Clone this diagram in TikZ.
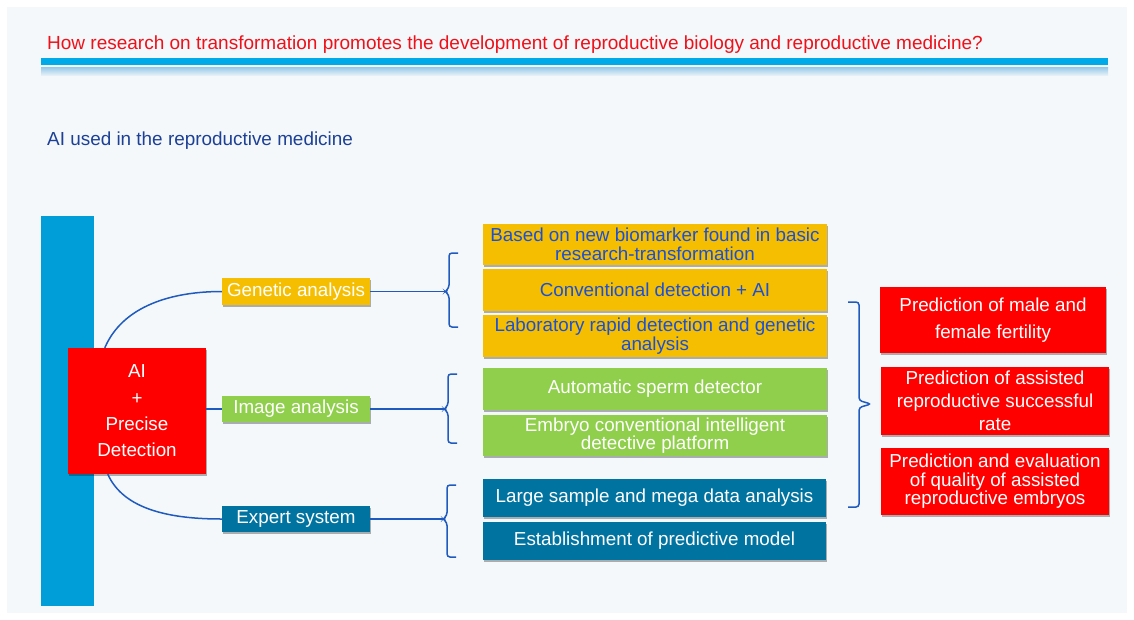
\documentclass[tikz,border=0pt]{standalone}
\usepackage{fontspec}
\setmainfont{Liberation Sans}
\usetikzlibrary{shadows}
\definecolor{panel}{RGB}{244,248,251}
\definecolor{titlered}{RGB}{240,16,24}
\definecolor{barblue}{RGB}{0,170,232}
\definecolor{navy}{RGB}{28,64,150}
\definecolor{vbar}{RGB}{0,158,216}
\definecolor{boxred}{RGB}{255,0,0}
\definecolor{gold}{RGB}{245,190,0}
\definecolor{leaf}{RGB}{143,207,76}
\definecolor{teal}{RGB}{0,115,160}
\definecolor{goldtext}{RGB}{26,80,215}
\definecolor{conn}{RGB}{31,90,190}
\tikzset{
  box/.style={rectangle, inner sep=0pt, align=center, text=white,
    font=\fontsize{18.8}{18.5}\selectfont,
    drop shadow={shadow xshift=1.2pt, shadow yshift=-2.2pt, opacity=0.3, fill=black}},
  connline/.style={draw=conn, line width=1.5pt},
  bracel/.style={draw=conn, line width=1.5pt, rounded corners=3pt}
}
\begin{document}
\begin{tikzpicture}[x=1pt,y=-1pt]
\useasboundingbox (0,0) rectangle (1134,619);
\fill[white] (0,0) rectangle (1134,619);
\fill[panel] (7,7) rectangle (1127,613);
% title
\node[anchor=base west, inner sep=0, text=titlered, font=\fontsize{19}{20}\selectfont] (title) at (47,49.5) {How research on transformation promotes the development of reproductive biology and reproductive medicine?};
\fill[barblue] (41,58) rectangle (1108,65);
\shade[top color={rgb,255:red,150;green,200;blue,232}, bottom color={rgb,255:red,228;green,240;blue,247}] (41,67) rectangle (1108,75);
\node[anchor=base west, inner sep=0, text=navy, font=\fontsize{18.9}{20}\selectfont] (sub) at (47,145) {AI used in the reproductive medicine};
% vertical bar
\fill[vbar] (41,216) rectangle (94,606);
% main box
\node[box, fill=boxred, minimum width=138pt, minimum height=126pt, font=\fontsize{18.8}{26.3}\selectfont] (ai) at (137,411) {AI\\+\\Precise\\Detection};
% category boxes
\node[box, fill=gold, minimum width=148pt, minimum height=27pt] (ga) at (296,291.5) {Genetic analysis};
\node[box, fill=leaf, minimum width=148pt, minimum height=26pt] (ia) at (296,409) {Image analysis};
\node[box, fill=teal, minimum width=148pt, minimum height=26pt] (es) at (296,519) {Expert system};
% curves
\draw[connline] ([xshift=37pt]ai.north west) .. controls +(18,-42) and +(-50,0) .. (ga.west);
\draw[connline] (ai.east |- ia.west) -- (ia.west);
\draw[connline] ([xshift=40pt]ai.south west) .. controls +(16,36) and +(-50,0) .. (es.west);
% braces
\coordinate (b1) at (445,291.5);
\coordinate (b2) at (444,409);
\coordinate (b3) at (443,519);
\draw[bracel] (458,253) -- (449,253) -- (449,288) -- (b1) -- (449,295) -- (449,327) -- (458,327);
\draw[bracel] (457,374) -- (448,374) -- (448,405.5) -- (b2) -- (448,412.5) -- (448,443) -- (457,443);
\draw[bracel] (456,485) -- (447,485) -- (447,515.5) -- (b3) -- (447,522.5) -- (447,557) -- (456,557);
\draw[connline] (ga.east) -- (b1);
\draw[connline] (ia.east) -- (b2);
\draw[connline] (es.east) -- (b3);
% detail boxes
\node[box, fill=gold, text=goldtext, minimum width=344pt, minimum height=41pt] (g1) at (655,244.5) {Based on new biomarker found in basic\\research-transformation};
\node[box, fill=gold, text=goldtext, minimum width=344pt, minimum height=42pt] (g2) at (655,290) {Conventional detection + AI};
\node[box, fill=gold, text=goldtext, minimum width=344pt, minimum height=42pt] (g3) at (655,336) {Laboratory rapid detection and genetic\\analysis};
\node[box, fill=leaf, minimum width=344pt, minimum height=42pt] (l1) at (655,389) {Automatic sperm detector};
\node[box, fill=leaf, minimum width=344pt, minimum height=41pt] (l2) at (655,435.5) {Embryo conventional intelligent\\detective platform};
\node[box, fill=teal, minimum width=343pt, minimum height=38pt] (t1) at (654.5,498) {Large sample and mega data analysis};
\node[box, fill=teal, minimum width=343pt, minimum height=38pt] (t2) at (654.5,541) {Establishment of predictive model};
% right brace
\coordinate (rb) at (871,404);
\draw[bracel] (848,302) -- (859,302) -- (859,400.5) -- (rb) -- (859,407.5) -- (859,507) -- (848,507);
% result boxes
\node[box, fill=boxred, minimum width=226pt, minimum height=66pt, font=\fontsize{18.8}{27}\selectfont] (r1) at (993,320) {Prediction of male and\\female fertility};
\node[box, fill=boxred, minimum width=228pt, minimum height=68pt, font=\fontsize{18.8}{23}\selectfont] (r2) at (995,401) {Prediction of assisted\\reproductive successful\\rate};
\node[box, fill=boxred, minimum width=228pt, minimum height=67pt, font=\fontsize{18.8}{18.5}\selectfont] (r3) at (995,481.5) {Prediction and evaluation\\of quality of assisted\\reproductive embryos};
\end{tikzpicture}
\end{document}
